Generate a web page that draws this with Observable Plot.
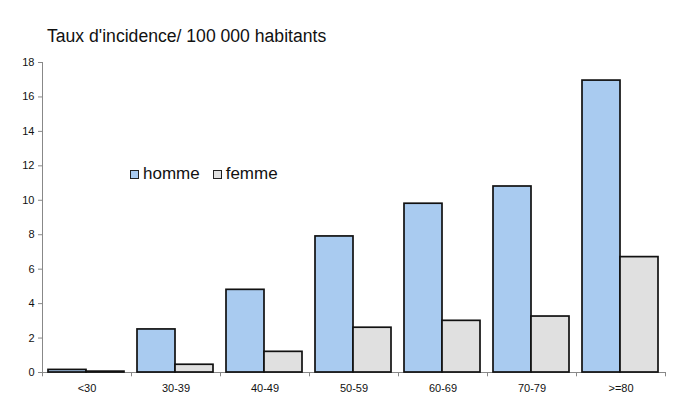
<!DOCTYPE html>
<html><head><meta charset="utf-8">
<script src="https://cdn.jsdelivr.net/npm/d3@7"></script>
<script src="https://cdn.jsdelivr.net/npm/@observablehq/plot@0.6"></script>
<style>
body{margin:0;background:#fff;font-family:"Liberation Sans",Arial,sans-serif;}
#wrap{position:relative;width:690px;height:415px;}
#title{position:absolute;left:47px;top:26px;font-size:17.6px;color:#111;white-space:nowrap;}
#chart{position:absolute;left:0;top:50px;}
#legend{position:absolute;left:130px;top:164px;font-size:17px;color:#111;display:flex;align-items:center;white-space:nowrap;}
#legend span.sw{display:inline-block;width:7px;height:7px;border:1px solid #222;margin-right:4px;}
#legend span.lab{margin-right:13px;}
</style></head>
<body>
<div id="wrap">
<div id="title">Taux d'incidence/ 100 000 habitants</div>
<div id="chart"></div>
<div id="legend"></div>
</div>
<script>
const ages = ["<30","30-39","40-49","50-59","60-69","70-79",">=80"];
const homme = [0.15, 2.5, 4.8, 7.9, 9.8, 10.8, 16.95];
const femme = [0.05, 0.45, 1.2, 2.6, 3.0, 3.25, 6.7];
const seriesNames = ["homme","femme"];
const colors = ["#A9CBF0","#E0E0E0"];
const yTicks = [0,2,4,6,8,10,12,14,16,18];

const dataH = ages.map((a,i)=>({age:a, v:homme[i]}));
const dataF = ages.map((a,i)=>({age:a, v:femme[i]}));

const W = 690, H = 365, mL = 42, mR = 25;
const step = (W - mL - mR) / ages.length;

const plot = Plot.plot({
  width: W, height: H,
  marginLeft: mL, marginRight: mR, marginTop: 12, marginBottom: 43,
  style: {fontFamily: "'Liberation Sans', Arial, sans-serif", fontSize: "11px", color: "#111", background: "#fff"},
  x: {domain: ages, padding: 0, label: null},
  y: {domain: [0,18], label: null},
  marks: [
    Plot.ruleY([0], {stroke: "#888"}),
    Plot.ruleX([ages[0]], {dx: -step/2, y1: 0, y2: 18, stroke: "#888"}),
    Plot.ruleX(ages, {x: d=>d, dx: -step/2, y1: 0, y2: -0.25, stroke: "#888"}),
    Plot.ruleX([ages[ages.length-1]], {dx: step/2, y1: 0, y2: -0.25, stroke: "#888"}),
    Plot.axisY({ticks: yTicks, tickSize: 4, tickPadding: 4, stroke: "#888", label: null}),
    Plot.axisX({tickSize: 0, tickPadding: 12, label: null}),
    Plot.barY(dataH, {x: "age", y: "v", fill: colors[0], stroke: "#111", strokeWidth: 1.7, insetLeft: 6, insetRight: 45}),
    Plot.barY(dataF, {x: "age", y: "v", fill: colors[1], stroke: "#111", strokeWidth: 1.7, insetLeft: 44, insetRight: 7})
  ]
});
document.getElementById("chart").appendChild(plot);

const leg = document.getElementById("legend");
seriesNames.forEach((n,i)=>{
  const sw = document.createElement("span"); sw.className="sw"; sw.style.background=colors[i];
  const lb = document.createElement("span"); lb.className="lab"; lb.textContent=n;
  leg.appendChild(sw); leg.appendChild(lb);
});
</script>
</body></html>
